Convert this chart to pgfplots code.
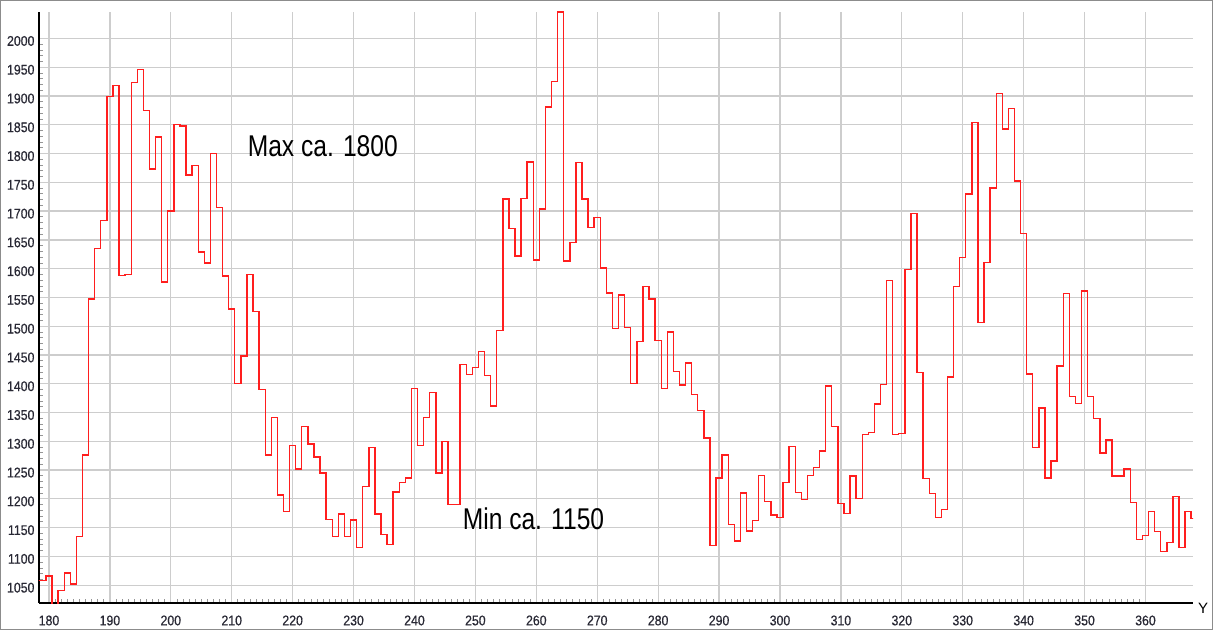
\documentclass[border=0pt]{standalone}
\usepackage{pgfplots}
\pgfplotsset{compat=1.18}
\usepackage{fontspec}
\setmainfont{Liberation Sans}
\newfontfamily\tickfont[FakeStretch=0.88,FakeBold=0.6]{Liberation Sans}
\newfontfamily\annofont[FakeStretch=0.82]{Liberation Sans}
\definecolor{gridgray}{RGB}{205,205,205}
\definecolor{tickgray}{RGB}{150,150,150}
\definecolor{labelcol}{RGB}{40,40,52}
\definecolor{linered}{RGB}{255,30,30}
\definecolor{framegray}{RGB}{140,140,140}
\begin{document}
\begin{tikzpicture}
\begin{axis}[
  at={(0,0)}, anchor=south west,
  scale only axis, width=1154pt, height=591pt,
  xmin=178.36, xmax=367.8, ymin=1019, ymax=2046,
  axis lines*=left,
  axis line style={black, line width=1.5pt},
  xtick={180,190,...,360}, ytick={1050,1100,...,2000},
  minor x tick num=9, minor y tick num=4,
  grid=major, major grid style={gridgray, line width=1.3pt},
  major tick length=0pt, minor tick length=4pt,
  tick align=inside,
  minor tick style={tickgray, line width=0.8pt},
  ticklabel style={font=\tickfont\fontsize{14}{14}\selectfont, text=labelcol},
  xticklabel style={yshift=-9pt},
  yticklabel style={xshift=-1pt, yshift=-2.5pt},
  /pgf/number format/1000 sep={},
  /pgf/number format/assume math mode=true,
]
\addplot[const plot mark mid, linered, line width=1.4pt] coordinates {
(178,1058) (179,1058) (180,1066) (181,1012) (182,1041) (183,1071) (184,1052)
(185,1135) (186,1276) (187,1547) (188,1635) (189,1684) (190,1899) (191,1918)
(192,1588) (193,1590) (194,1923) (195,1946) (196,1875) (197,1773) (198,1829)
(199,1577) (200,1700) (201,1851) (202,1848) (203,1763) (204,1779) (205,1629)
(206,1610) (207,1800) (208,1706) (209,1587) (210,1530) (211,1400) (212,1448)
(213,1590) (214,1526) (215,1390) (216,1276) (217,1341) (218,1207) (219,1178)
(220,1293) (221,1252) (222,1326) (223,1295) (224,1273) (225,1245) (226,1164)
(227,1135) (228,1174) (229,1135) (230,1163) (231,1115) (232,1221) (233,1289)
(234,1174) (235,1138) (236,1121) (237,1212) (238,1228) (239,1236) (240,1392)
(241,1293) (242,1341) (243,1385) (244,1245) (245,1300) (246,1190) (247,1190)
(248,1433) (249,1416) (250,1428) (251,1456) (252,1414) (253,1361) (254,1493)
(255,1721) (256,1670) (257,1622) (258,1722) (259,1785) (260,1615) (261,1704)
(262,1881) (263,1925) (264,2046) (265,1613) (266,1645) (267,1784) (268,1721)
(269,1672) (270,1689) (271,1601) (272,1558) (273,1496) (274,1554) (275,1498)
(276,1400) (277,1473) (278,1569) (279,1547) (280,1475) (281,1392) (282,1490)
(283,1421) (284,1398) (285,1436) (286,1381) (287,1354) (288,1306) (289,1119)
(290,1236) (291,1276) (292,1155) (293,1127) (294,1210) (295,1144) (296,1162)
(297,1241) (298,1195) (299,1172) (300,1168) (301,1228) (302,1291) (303,1211)
(304,1199) (305,1241) (306,1254) (307,1283) (308,1396) (309,1326) (310,1192)
(311,1175) (312,1240) (313,1201) (314,1312) (315,1315) (316,1365) (317,1399)
(318,1579) (319,1312) (320,1314) (321,1599) (322,1696) (323,1420) (324,1235)
(325,1209) (326,1168) (327,1182) (328,1412) (329,1569) (330,1619) (331,1730)
(332,1854) (333,1506) (334,1611) (335,1740) (336,1904) (337,1843) (338,1878)
(339,1752) (340,1661) (341,1417) (342,1289) (343,1358) (344,1236) (345,1266)
(346,1431) (347,1557) (348,1378) (349,1366) (350,1561) (351,1378) (352,1340)
(353,1280) (354,1302) (355,1240) (356,1240) (357,1252) (358,1194) (359,1129)
(360,1136) (361,1178) (362,1143) (363,1108) (364,1124) (365,1204) (366,1115)
(367,1178) (368,1166) (369,1166)
};
\node[anchor=base west, inner sep=0pt] at (axis cs:212.6,1795)
  {\annofont\fontsize{30}{30}\selectfont Max ca. 1800};
\node[anchor=base west, inner sep=0pt] at (axis cs:247.9,1147)
  {\annofont\fontsize{30}{30}\selectfont Min ca. 1150};
\end{axis}
\node[anchor=center, inner sep=0pt] at (1164pt,-5pt)
  {\fontsize{15}{15}\selectfont Y};
\draw[framegray, line width=1pt] (-38.5pt,-26.5pt) rectangle (1173.5pt,602.5pt);
\path[use as bounding box] (-39pt,-27pt) rectangle (1174pt,603pt);
\end{tikzpicture}
\end{document}
